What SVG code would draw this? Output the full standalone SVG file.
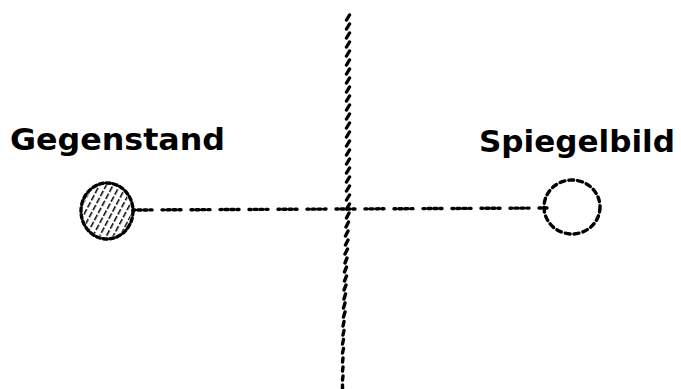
<svg xmlns="http://www.w3.org/2000/svg" width="681" height="389" viewBox="0 0 681 389">
<defs>
<pattern id="hatch" patternUnits="userSpaceOnUse" width="6" height="8" patternTransform="rotate(28)">
<line x1="0" y1="0" x2="0" y2="8" stroke="#000" stroke-width="3" stroke-dasharray="6 2"/>
</pattern>
</defs>
<style>
.lbl{font-family:"DejaVu Sans Condensed","DejaVu Sans",sans-serif;font-weight:bold;font-size:31px;fill:#000}
.dash{fill:none;stroke:#000;stroke-width:3.4;stroke-linecap:round}
.mir{fill:none;stroke:#000;stroke-width:3.4;stroke-linecap:round}
</style>
<rect width="681" height="389" fill="#fff"/>
<g id="connectors">
<path class="dash" d="M133 210 L547 208" stroke-dasharray="2 3 3 3 3 3 2 10"/>
</g>
<g id="mirror">
<path class="mir" d="M346.5 20l3-5M346.5 29l3-5M346.5 38l3-5M346.5 47l3-5M346.5 56l3-5M346.5 65l3-5M346.5 74l3-5M346.5 83l3-5M346.5 92l3-5M346.5 101l3-5M346.5 110l3-5M346.5 119l3-5M346.5 128l3-5M346.5 137l3-5M346.5 146l3-5M346.5 155l3-5M346.5 164l3-5M346.5 173l3-5M346.5 182l3-5M346.5 191l3-5M346.5 200l3-5M346.5 209l3-5M346.5 218l2.5-5M346 227l2.5-5M345.5 236l2.5-5M345.5 245l2.5-5M345 254l2.5-5M345 263l2-5M344.5 272l2-5M344.5 281l2-5M344 290l2-5M344 299l1.5-5M343.5 308l1.5-5M343.5 317l1.5-5M343 326l1-4.5M343 335l1-4.5M342.5 344l1-4.5M342.5 353l1-4.5M342.5 362l0.5-4M342.5 371l0.5-4M342.5 380l0.5-4M342.5 389l0-4"/>
</g>
<g id="gegenstand">
<ellipse cx="107" cy="211" rx="24" ry="26" fill="url(#hatch)"/>
<ellipse class="dash" cx="107" cy="211" rx="26" ry="28" stroke-dasharray="4 3"/>
<text class="lbl" x="10" y="150" textLength="215" lengthAdjust="spacingAndGlyphs">Gegenstand</text>
</g>
<g id="spiegelbild">
<ellipse class="dash" cx="572" cy="207" rx="28" ry="27" stroke-dasharray="5 4"/>
<text class="lbl" x="479" y="152" textLength="196" lengthAdjust="spacingAndGlyphs">Spiegelbild</text>
</g>
</svg>
